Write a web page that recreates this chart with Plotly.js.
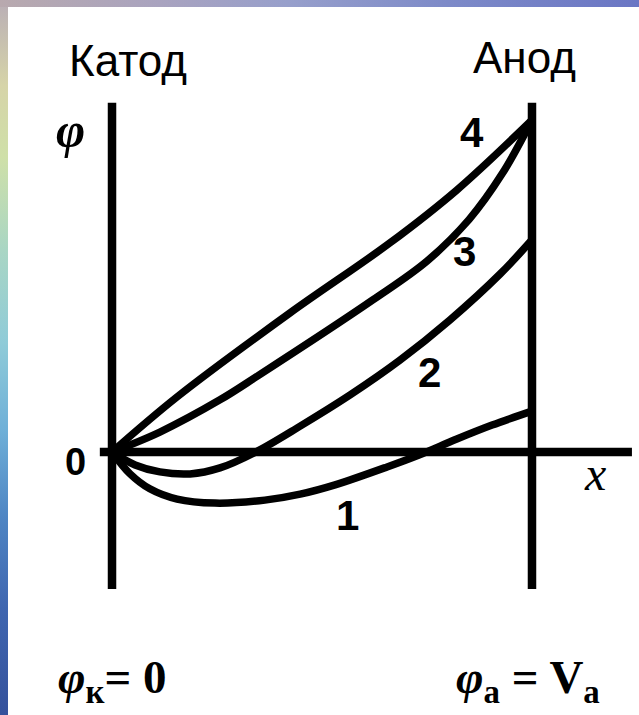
<!DOCTYPE html>
<html>
<head>
<meta charset="utf-8">
<script src="https://cdn.plot.ly/plotly-3.0.1.min.js"></script>
<style>
  html, body { margin: 0; padding: 0; background: #ffffff; }
  #wrap { position: relative; width: 639px; height: 715px; overflow: hidden; background: #ffffff; }
  #edgeLeft { position: absolute; left: 0; top: 0; width: 8px; height: 715px;
    background: linear-gradient(to bottom, #b9aeb6 0%, #d6d4a8 12%, #cfe0a8 22%, #a9d6c4 35%, #8fcbd8 48%, #6fb0d8 60%, #4f86c4 72%, #3f66b0 85%, #35529c 100%); }
  #edgeTop { position: absolute; left: 0; top: 0; width: 639px; height: 7px;
    background: linear-gradient(to right, #b8a9ae 0%, #a9a3bf 25%, #979fcb 45%, #7d8ac8 70%, #6a76c4 100%); }
  #chart { position: absolute; left: 0; top: 0; width: 639px; height: 715px; }
</style>
</head>
<body>
<div id="wrap">
  <div id="edgeLeft"></div>
  <div id="edgeTop"></div>
  <div id="chart"></div>
</div>
<script>
// Distance from cathode (0) to anode (10), arbitrary units
const x1 = [0, 0.43, 0.90, 1.55, 2.45, 3.64, 4.48, 5.31, 6.55, 7.31, 8.21, 9.05, 10];
const phi1 = [0, -0.66, -1.11, -1.42, -1.54, -1.45, -1.27, -0.99, -0.45, -0.09, 0.39, 0.81, 1.23];

const x2 = [0, 0.55, 1.14, 1.86, 2.57, 3.38, 4.48, 5.67, 6.86, 8.05, 9.24, 10];
const phi2 = [0, -0.39, -0.60, -0.66, -0.48, -0.03, 0.78, 1.72, 2.77, 3.98, 5.36, 6.39];

const x3 = [0, 1.14, 2.57, 3.48, 6.21, 7.50, 8.50, 9.30, 10];
const phi3 = [0, 0.60, 1.57, 2.30, 4.58, 5.75, 7.00, 8.40, 10.0];

const x4 = [0, 1.55, 4.24, 6.62, 8.21, 10];
const phi4 = [0, 1.66, 4.19, 6.30, 7.89, 10.0];

const curveNames = ['1', '2', '3', '4'];

// Electrodes and the x axis
const cathodeX = 0;
const anodeX = 10;
const electrodeTop = 10.52;
const electrodeBottom = -4.13;
const axisStart = -0.29;
const axisEnd = 12.38;

const ink = '#000000';
const curveWidth = 7.5;
const frameWidth = 8.5;

const series = [[x1, phi1], [x2, phi2], [x3, phi3], [x4, phi4]];
const traces = series.map(function (s, i) {
  return {
    x: s[0], y: s[1], name: curveNames[i],
    type: 'scatter', mode: 'lines',
    line: { color: ink, width: curveWidth, shape: 'spline', smoothing: 1.0 },
    hoverinfo: 'skip'
  };
});

const shapes = [
  { type: 'line', xref: 'x', yref: 'y', x0: cathodeX, x1: cathodeX, y0: electrodeBottom, y1: electrodeTop,
    line: { color: ink, width: frameWidth } },
  { type: 'line', xref: 'x', yref: 'y', x0: anodeX, x1: anodeX, y0: electrodeBottom, y1: electrodeTop,
    line: { color: ink, width: frameWidth } },
  { type: 'line', xref: 'x', yref: 'y', x0: axisStart, x1: axisEnd, y0: 0, y1: 0,
    line: { color: ink, width: frameWidth } }
];

// helpers: pixel position inside the 639x715 page -> paper fraction
const W = 639, H = 715;
function px(v) { return v / W; }
function py(v) { return 1 - v / H; }

const sans = 'Liberation Sans, Arial, sans-serif';
const serif = 'Liberation Serif, Times New Roman, serif';

function note(text, xp, yp, font) {
  return { text: text, xref: 'paper', yref: 'paper', x: px(xp), y: py(yp),
    xanchor: 'center', yanchor: 'middle', showarrow: false, font: font };
}
function curveLabel(text, xv, yv) {
  return { text: '<b>' + text + '</b>', xref: 'x', yref: 'y', x: xv, y: yv,
    xanchor: 'center', yanchor: 'middle', showarrow: false,
    font: { family: sans, size: 42, color: ink } };
}

const annotations = [
  note('Катод', 128, 60, { family: sans, size: 44, color: ink }),
  note('Анод', 524, 58, { family: sans, size: 44, color: ink }),
  note('<b><i>φ</i></b>', 70, 130, { family: serif, size: 50, color: ink }),
  note('<b>0</b>', 75, 462, { family: sans, size: 38, color: ink }),
  note('<i>x</i>', 595, 474, { family: serif, size: 48, color: ink }),
  note('<b><i>φ</i><sub>к</sub>= 0</b>', 112, 680, { family: serif, size: 47, color: ink }),
  note('<b><i>φ</i><sub>a</sub> = V<sub>a</sub></b>', 528, 680, { family: serif, size: 47, color: ink }),
  curveLabel('1', 5.60, -1.90),
  curveLabel('2', 7.57, 2.38),
  curveLabel('3', 8.40, 6.05),
  curveLabel('4', 8.57, 9.61)
];

const layout = {
  width: W, height: H,
  margin: { l: 0, r: 0, t: 0, b: 0, pad: 0 },
  paper_bgcolor: 'rgba(0,0,0,0)',
  plot_bgcolor: 'rgba(0,0,0,0)',
  showlegend: false,
  xaxis: { range: [-2.667, 12.548], visible: false, fixedrange: true },
  yaxis: { range: [-7.922, 13.614], visible: false, fixedrange: true },
  shapes: shapes,
  annotations: annotations
};

Plotly.newPlot('chart', traces, layout, { staticPlot: true, displayModeBar: false });
</script>
</body>
</html>
